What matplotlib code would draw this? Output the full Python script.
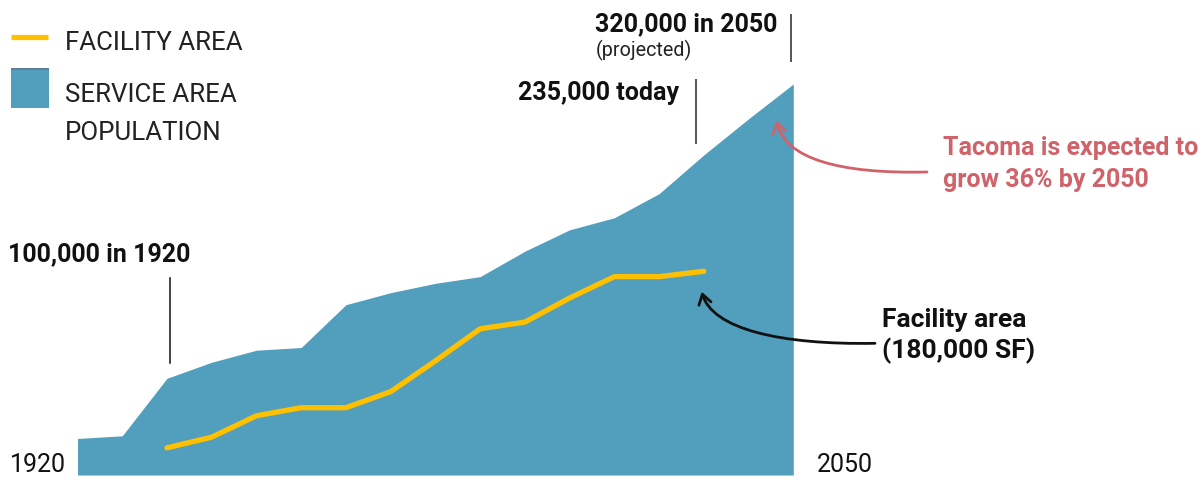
import matplotlib
matplotlib.use("Agg")
import matplotlib.pyplot as plt
from matplotlib.path import Path
from matplotlib.patches import FancyArrowPatch, Rectangle

plt.rcParams['font.family'] = ['Roboto', 'DejaVu Sans']

# ---- data (thousands) ----
steps = list(range(17))                       # evenly spaced periods, 1920 -> 2050
population = [55, 57, 100, 112, 121, 123, 155, 164, 171, 176,
              195, 211, 220, 238, 267, 294, 320]   # service area population (thousands)
facility_steps = list(range(2, 15))
facility_area = [48, 56, 72, 78, 78, 90, 113, 137, 142, 160, 176, 176, 180]  # thousand SF
axis_floor = 27.7
start_label, end_label = "1920", "2050"

AREA_BLUE = "#529EBD"
YELLOW = "#FFC000"
RED = "#D0626A"
GRAY = "#555555"

W, H = 1203, 481
fig = plt.figure(figsize=(W / 100, H / 100), dpi=100)

def fx(px):
    return px / W

def fy(py):
    return 1 - py / H

# chart axes
left_px, right_px, base_px, top_px = 77.5, 793.3, 476, 85
ax = fig.add_axes([fx(left_px), fy(base_px), fx(right_px - left_px), (base_px - top_px) / H])
ax.fill_between(steps, axis_floor, population, color=AREA_BLUE, lw=0)
ax.plot(facility_steps, facility_area, color=YELLOW, lw=3.8, solid_capstyle='round',
        solid_joinstyle='round')
ax.set_xlim(steps[0], steps[-1])
ax.set_ylim(axis_floor, max(population))
ax.axis('off')

# overlay in pixel coordinates for annotations
ov = fig.add_axes([0, 0, 1, 1], facecolor='none')
ov.set_xlim(0, W)
ov.set_ylim(H, 0)
ov.axis('off')

# legend
ov.plot([11, 48], [38.3, 38.3], color=YELLOW, lw=3.8, solid_capstyle='butt')
ov.add_patch(Rectangle((11, 69), 38, 40, color=AREA_BLUE, lw=0))
ov.add_patch(Rectangle((11, 69), 38, 2, color="#5E7F95", lw=0))
leg_kw = dict(fontsize=18.6, color="#222222", ha='left', va='baseline')
ov.text(65, 50, "FACILITY AREA", **leg_kw)
ov.text(65, 102, "SERVICE AREA", **leg_kw)
ov.text(65, 140, "POPULATION", **leg_kw)

# end labels
ov.text(10, 472, start_label, fontsize=18, color="#111111", ha='left', va='baseline')
ov.text(817, 472, end_label, fontsize=18, color="#111111", ha='left', va='baseline')

bold = dict(fontsize=18, fontweight='bold', color="#111111", va='baseline')
ov.text(8, 261, "100,000 in 1920", ha='left', **bold)
ov.plot([170, 170], [279, 364], color="#111111", lw=1.1)

ov.text(679, 100, "235,000 today", ha='right', **bold)
ov.plot([696, 696], [81, 144], color=GRAY, lw=1.4)

ov.text(777, 31, "320,000 in 2050", ha='right', **bold)
ov.text(596, 56, "(projected)", ha='left', fontsize=14.2, color="#222222", va='baseline')
ov.plot([790.7, 790.7], [16, 62], color=GRAY, lw=1.4)

# callouts
red_kw = dict(ha='left', fontsize=18, fontweight='bold', color=RED, va='baseline')
ov.text(943, 155, "Tacoma is expected to", **red_kw)
ov.text(943, 187, "grow 36% by 2050", **red_kw)
fac_kw = dict(bold, fontsize=19)
ov.text(882, 327, "Facility area", ha='left', **fac_kw)
ov.text(882, 358, "(180,000 SF)", ha='left', **fac_kw)

def curved_arrow(p0, p1, p2, p3, color):
    path = Path([p0, p1, p2, p3], [Path.MOVETO, Path.CURVE4, Path.CURVE4, Path.CURVE4])
    arr = FancyArrowPatch(path=path, arrowstyle="->,head_length=7,head_width=4.5",
                          color=color, lw=2.0, mutation_scale=1)
    ov.add_patch(arr)

curved_arrow((927, 173), (840, 175), (785, 160), (776.5, 121.5), RED)
curved_arrow((875, 344.3), (780, 346), (712, 330), (701.7, 292.7), "#111111")

fig.savefig("out.png", dpi=100)
